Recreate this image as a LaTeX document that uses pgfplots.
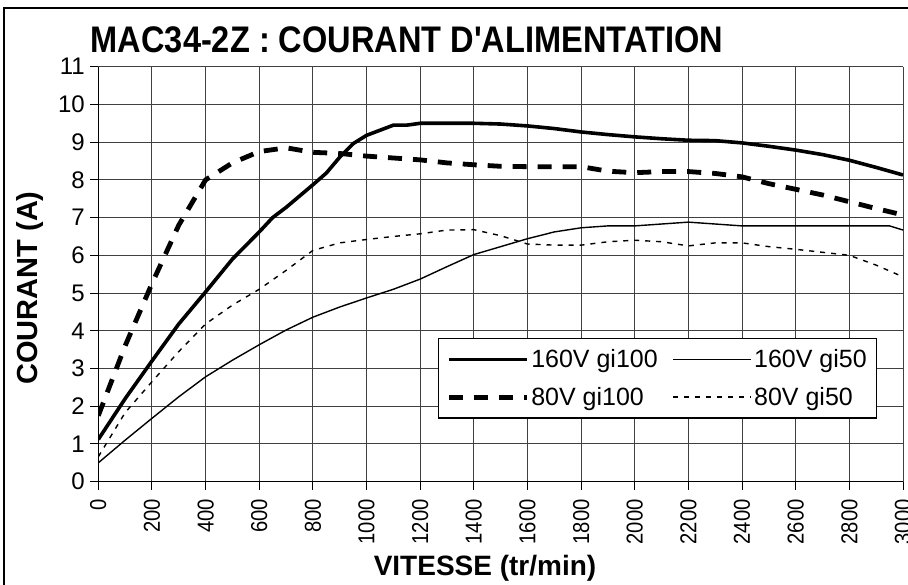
\documentclass[border=0pt]{standalone}
\usepackage{pgfplots}
\pgfplotsset{compat=1.18}
\usepackage{fontspec}
\setmainfont{Liberation Sans}
\begin{document}
\begin{tikzpicture}[x=1pt,y=1pt]
\useasboundingbox (0,0) rectangle (908,585);
\draw[line width=1.2pt] (4,-10) -- (4,577) -- (920,577);
\begin{axis}[
 at={(98.3pt,103.3pt)}, anchor=south west,
 scale only axis, width=804.7pt, height=415pt,
 xmin=0,xmax=3000,ymin=0,ymax=11,
 axis x line*=bottom, axis y line*=left,
 axis line style={line width=1.2pt,-},
 xtick={0,200,...,3000}, ytick={0,1,...,11},
 grid=major, major grid style={line width=1pt,black!75},
 tick align=outside, major tick length=8pt, tick style={line width=1pt,black},
 /pgf/number format/assume math mode=true,
 /pgf/number format/set thousands separator={},
 scaled x ticks=false,
 yticklabel style={font=\fontsize{24}{24}\selectfont, xshift=-2pt},
 xticklabel={\scalebox{0.88}[1]{\pgfmathprintnumber{\tick}}},
 xticklabel style={rotate=90,anchor=east,font=\fontsize{23}{23}\selectfont, xshift=-6pt},
 legend columns=2,
 legend cell align=left,
 legend image code/.code={\draw[#1] (0pt,0pt) -- (78pt,0pt);},
 legend style={at={(0.422,0.346)}, anchor=north west, draw=black, line width=1.2pt,
   font=\fontsize{25}{25}\selectfont, /tikz/every even column/.append style={column sep=13pt},
   /tikz/row sep=14pt, inner xsep=8pt, inner ysep=9pt},
]
\addplot[black, line width=3.6pt, line join=round] coordinates {
(0,1.12) (100,2.2) (200,3.2) (300,4.18) (400,5.03) (500,5.9) (600,6.62) (650,7.0) (700,7.27)
(800,7.87) (850,8.18) (900,8.6) (950,8.96) (1000,9.18) (1100,9.45) (1150,9.45) (1200,9.5)
(1300,9.5) (1400,9.5) (1500,9.48) (1600,9.43) (1700,9.36) (1800,9.27) (1900,9.2) (2000,9.14)
(2100,9.09) (2200,9.05) (2300,9.04) (2400,8.98) (2500,8.89) (2600,8.79) (2700,8.67) (2800,8.52)
(2900,8.33) (3000,8.13)};
\addlegendentry{160V gi100}
\addplot[black, line width=1.4pt] coordinates {
(0,0.5) (100,1.1) (200,1.68) (300,2.25) (400,2.78) (500,3.22) (600,3.63) (700,4.02) (800,4.36)
(900,4.63) (1000,4.87) (1100,5.1) (1200,5.37) (1300,5.7) (1400,6.02) (1500,6.23) (1600,6.44)
(1700,6.62) (1800,6.73) (1900,6.78) (2000,6.78) (2200,6.88) (2400,6.78) (2600,6.78) (2800,6.78)
(2950,6.78) (3000,6.67)};
\addlegendentry{160V gi50}
\addplot[black, line width=4.8pt, dash pattern=on 14pt off 11pt] coordinates {
(0,1.75) (100,3.6) (200,5.25) (300,6.8) (400,8.0) (500,8.45) (600,8.75) (700,8.85) (800,8.73)
(900,8.7) (1000,8.63) (1100,8.58) (1200,8.53) (1300,8.45) (1400,8.4) (1500,8.36) (1600,8.35)
(1700,8.35) (1800,8.35) (1900,8.23) (2000,8.19) (2100,8.22) (2200,8.22) (2300,8.17) (2400,8.08)
(2500,7.9) (2600,7.75) (2700,7.6) (2800,7.42) (2900,7.24) (3000,7.07)};
\addlegendentry{80V gi100}
\addplot[black, line width=1.4pt, dash pattern=on 5pt off 6pt] coordinates {
(0,0.66) (100,1.83) (200,2.65) (300,3.45) (400,4.18) (500,4.68) (600,5.1) (700,5.6) (800,6.13)
(900,6.33) (1000,6.42) (1100,6.5) (1200,6.57) (1300,6.67) (1400,6.68) (1500,6.52) (1600,6.3)
(1700,6.27) (1800,6.27) (1900,6.36) (2000,6.4) (2100,6.36) (2200,6.25) (2300,6.33) (2400,6.33)
(2500,6.23) (2600,6.16) (2700,6.08) (2800,6.0) (2900,5.74) (3000,5.43)};
\addlegendentry{80V gi50}
\end{axis}
\node[font=\fontsize{37}{40}\selectfont\bfseries] at (407,545) {\scalebox{0.88}[1]{MAC34-2Z : COURANT D\textquotesingle ALIMENTATION}};
\node[font=\fontsize{29}{30}\selectfont\bfseries, rotate=90] at (30,297) {COURANT (A)};
\node[font=\fontsize{28}{30}\selectfont\bfseries] at (485,17) {VITESSE (tr/min)};
\end{tikzpicture}
\end{document}
